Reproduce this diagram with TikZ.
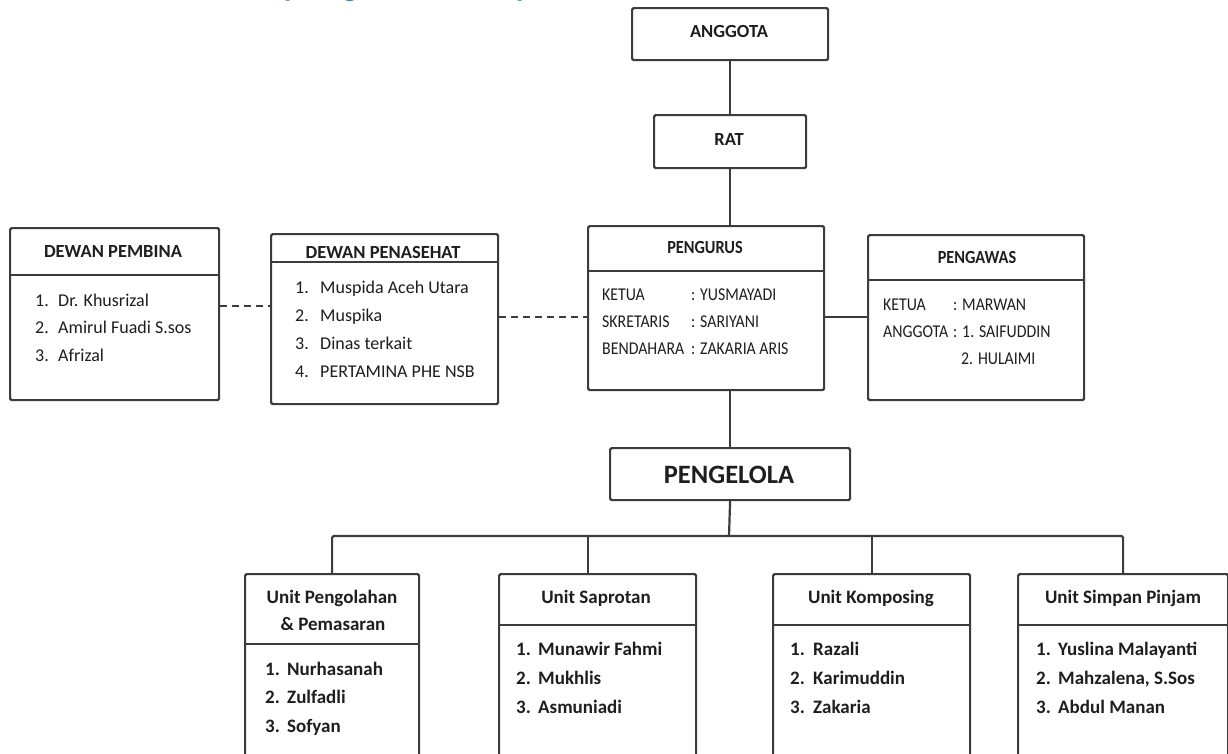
\documentclass[tikz,border=0pt]{standalone}
\usepackage{fontspec}
\setmainfont{Carlito}
\newfontfamily\condfont[FakeStretch=0.88]{Carlito}
\definecolor{lc}{HTML}{3C3C3C}
\definecolor{tc}{HTML}{1E1E1E}
\definecolor{ttl}{HTML}{2A86CC}
\newcommand\hdfont{\fontsize{18.5}{22}\selectfont\bfseries}
\newcommand\chdfont{\condfont\fontsize{18.5}{22}\selectfont\bfseries}
\newcommand\bdfont{\fontsize{18}{22}\selectfont}
\newcommand\cbdfont{\condfont\fontsize{18}{22}\selectfont}
\newcommand\unfont{\fontsize{19}{22}\selectfont\bfseries}
\newcommand\bigfont{\fontsize{26.5}{30}\selectfont\bfseries}
\newcommand\ttlfont{\fontsize{30}{30}\selectfont\bfseries}
\begin{document}
\begin{tikzpicture}[x=1pt,y=-1pt,
 box/.style={draw=lc, line width=2.2pt, rounded corners=1.5pt, inner sep=0pt, anchor=north west},
 ln/.style={draw=lc, line width=2.2pt},
 dln/.style={draw=lc, line width=2pt, dash pattern=on 7pt off 5pt},
 hd/.style={font=\hdfont, text=tc, anchor=base, inner sep=0pt},
 chd/.style={font=\chdfont, text=tc, anchor=base, inner sep=0pt},
 bd/.style={font=\bdfont, text=tc, anchor=base west, inner sep=0pt},
 cbd/.style={font=\cbdfont, text=tc, anchor=base west, inner sep=0pt},
 un/.style={font=\unfont, text=tc, anchor=base, inner sep=0pt},
 ui/.style={font=\unfont, text=tc, anchor=base west, inner sep=0pt},
 frag/.style={font=\ttlfont, text=ttl, anchor=base west, inner sep=0pt},
]
\clip (0,0) rectangle (1228,753);
\fill[white] (0,0) rectangle (1228,753);

% cut-off title fragments (only their descenders show)
\node[frag] (f1) at (284,-3.5) {p};
\node[frag] (f2) at (343,-3.5) {g};
\node[frag] (f3) at (516,-3.5) {p};

% top chain
\node[box, minimum width=196pt, minimum height=52pt] (anggota) at (631,7) {};
\node[hd] (tanggota) at (729,37) {ANGGOTA};
\node[box, minimum width=152pt, minimum height=53pt] (rat) at (653,114) {};
\node[hd] (trat) at (729,145) {RAT};

% Dewan Pembina
\node[box, minimum width=209pt, minimum height=172pt] (pembina) at (9,227) {};
\draw[ln] (pembina.north west) ++(0,48) -- ++(209,0);
\node[hd] (tpembina) at (113,257) {DEWAN PEMBINA};
\foreach \t [count=\i] in {Dr. Khusrizal, Amirul Fuadi S.sos, Afrizal}{
  \node[bd] (pbn\i) at (35,{306+27.5*(\i-1)}) {\i.};
  \node[bd] (pb\i) at (58,{306+27.5*(\i-1)}) {\t};
}

% Dewan Penasehat
\node[box, minimum width=227pt, minimum height=170pt] (penasehat) at (270,233) {};
\draw[ln] (penasehat.north west) ++(0,29) -- ++(227,0);
\node[hd] (tpenasehat) at (383,258) {DEWAN PENASEHAT};
\foreach \t [count=\i] in {Muspida Aceh Utara, Muspika, Dinas terkait, PERTAMINA PHE NSB}{
  \node[bd] (phn\i) at (295,{293+28.3*(\i-1)}) {\i.};
  \node[bd] (ph\i) at (320,{293+28.3*(\i-1)}) {\t};
}

% Pengurus
\node[box, minimum width=236pt, minimum height=164pt] (pengurus) at (587,225) {};
\draw[ln] (pengurus.north west) ++(0,46) -- ++(236,0);
\node[chd] (tpengurus) at (705,253) {PENGURUS};
\foreach \a/\b [count=\i] in {KETUA/YUSMAYADI, SKRETARIS/SARIYANI, BENDAHARA/ZAKARIA ARIS}{
  \node[cbd] (pgl\i) at (602,{300+27*(\i-1)}) {\a};
  \node[cbd] (pgv\i) at (691,{300+27*(\i-1)}) {: \b};
}

% Pengawas
\node[box, minimum width=216pt, minimum height=165pt] (pengawas) at (867,234) {};
\draw[ln] (pengawas.north west) ++(0,46) -- ++(216,0);
\node[chd] (tpengawas) at (977,263) {PENGAWAS};
\node[cbd] (pwl1) at (883,310) {KETUA};
\node[cbd] (pwv1) at (953,310) {: MARWAN};
\node[cbd] (pwl2) at (883,337) {ANGGOTA};
\node[cbd] (pwv2) at (953,337) {: 1. SAIFUDDIN};
\node[cbd] (pwv3) at (961,364) {2. HULAIMI};

% Pengelola
\node[box, minimum width=240pt, minimum height=52pt] (pengelola) at (609,447) {};
\node[font=\bigfont, text=tc, anchor=base, inner sep=0pt] (tpengelola) at (729,483) {PENGELOLA};

% Units
\node[box, minimum width=174pt, minimum height=220pt] (u1) at (244,573) {};
\draw[ln] (u1.north west) ++(0,71) -- ++(174,0);
\node[un] (tu1a) at (332,603) {Unit Pengolahan};
\node[un] (tu1b) at (333,630) {\& Pemasaran};
\foreach \t [count=\i] in {Nurhasanah, Zulfadli, Sofyan}{
  \node[ui] (u1n\i) at (265,{675+28.5*(\i-1)}) {\i.};
  \node[ui] (u1t\i) at (287,{675+28.5*(\i-1)}) {\t};
}

\node[box, minimum width=197pt, minimum height=220pt] (u2) at (498,573) {};
\draw[ln] (u2.north west) ++(0,52) -- ++(197,0);
\node[un] (tu2) at (596,603) {Unit Saprotan};
\foreach \t [count=\i] in {Munawir Fahmi, Mukhlis, Asmuniadi}{
  \node[ui] (u2n\i) at (516,{655+29*(\i-1)}) {\i.};
  \node[ui] (u2t\i) at (538,{655+29*(\i-1)}) {\t};
}

\node[box, minimum width=197pt, minimum height=220pt] (u3) at (772,573) {};
\draw[ln] (u3.north west) ++(0,52) -- ++(197,0);
\node[un] (tu3) at (871,603) {Unit Komposing};
\foreach \t [count=\i] in {Razali, Karimuddin, Zakaria}{
  \node[ui] (u3n\i) at (790,{655+29*(\i-1)}) {\i.};
  \node[ui] (u3t\i) at (813,{655+29*(\i-1)}) {\t};
}

\node[box, minimum width=210pt, minimum height=220pt] (u4) at (1017,573) {};
\draw[ln] (u4.north west) ++(0,52) -- ++(210,0);
\node[un] (tu4) at (1123,603) {Unit Simpan Pinjam};
\foreach \t [count=\i] in {Yuslina Malayanti, {Mahzalena, S.Sos}, Abdul Manan}{
  \node[ui] (u4n\i) at (1036,{655+29*(\i-1)}) {\i.};
  \node[ui] (u4t\i) at (1058,{655+29*(\i-1)}) {\t};
}

% connectors
\coordinate (ylink) at (0,317);
\coordinate (ylink2) at (0,306);
\coordinate (bus) at (729,536);
\coordinate (u2top) at (588,573);

\draw[ln] (anggota.south) -- (rat.north);
\draw[ln] (rat.south) -- (rat.south |- pengurus.north);
\draw[ln] (pengelola.north |- pengurus.south) -- (pengelola.north);
\draw[ln] (pengurus.east |- ylink) -- (pengawas.west |- ylink);
\draw[dln] (penasehat.east |- ylink) -- (pengurus.west |- ylink);
\draw[dln] (pembina.east |- ylink2) -- (penasehat.west |- ylink2);
\draw[ln] (pengelola.south) -- (bus);
\draw[ln, rounded corners=1.5pt] (u1.north) -- (u1.north |- bus) -- (u4.north |- bus) -- (u4.north);
\draw[ln] (u2top |- bus) -- (u2top);
\draw[ln] (u3.north |- bus) -- (u3.north);
\end{tikzpicture}
\end{document}
